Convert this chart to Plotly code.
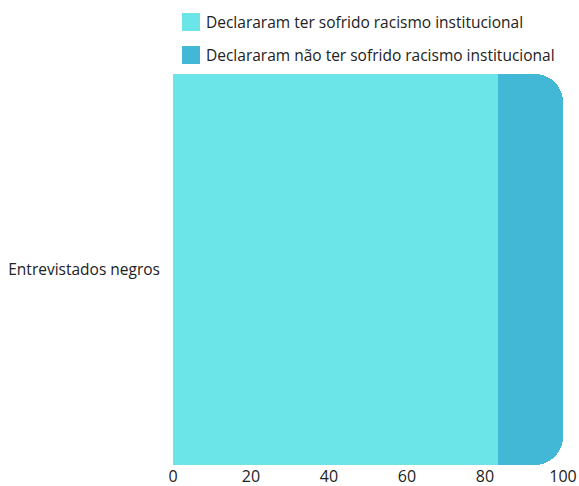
import plotly.graph_objects as go

categories = ["Entrevistados negros"]
series_names = [
    "Declararam ter sofrido racismo institucional",
    "Declararam não ter sofrido racismo institucional",
]
series_values = [[83.3], [16.7]]
series_colors = ["#6CE5E9", "#42B8D6"]
x_ticks = [0, 20, 40, 60, 80, 100]

W, H = 579, 486
L, R, T, B = 173, 16, 74, 21
FONT = "Open Sans"
FS = 15.5

fig = go.Figure()
for name, vals, col in zip(series_names, series_values, series_colors):
    fig.add_trace(go.Bar(
        y=categories, x=vals, name=name, orientation="h",
        marker=dict(color=col, line=dict(width=0)),
        showlegend=False, hoverinfo="x+name",
    ))

# legend drawn as swatches with labels above the plot
pw, ph = W - L - R, H - T - B
def px_to_paper(px, py):
    return (px - L) / pw, (H - B - py) / ph

shapes, annotations = [], []
for i, (name, col) in enumerate(zip(series_names, series_colors)):
    cy = 22 + i * 33
    x0, y0 = px_to_paper(182, cy + 9)
    x1, y1 = px_to_paper(200, cy - 9)
    shapes.append(dict(type="rect", xref="paper", yref="paper",
                       x0=x0, y0=y0, x1=x1, y1=y1,
                       fillcolor=col, line=dict(width=0), layer="above"))
    tx, ty = px_to_paper(204, cy)
    annotations.append(dict(text=name, xref="paper", yref="paper",
                            x=tx, y=ty, xanchor="left", yanchor="middle",
                            showarrow=False,
                            font=dict(family=FONT, size=FS, color="#222222")))

fig.update_layout(
    width=W, height=H,
    margin=dict(l=L, r=R, t=T, b=B, pad=0, autoexpand=False),
    barmode="stack", bargap=0, barcornerradius=28,
    paper_bgcolor="white", plot_bgcolor="white",
    font=dict(family=FONT, size=FS, color="#222222"),
    shapes=shapes, annotations=annotations,
    xaxis=dict(range=[0, 100], tickvals=x_ticks, showgrid=True,
               gridcolor="#efe9ea", gridwidth=1, zeroline=False,
               showline=False, ticks="", fixedrange=True, automargin=False,
               tickfont=dict(size=16, color="#222222")),
    yaxis=dict(showgrid=False, zeroline=False, showline=False,
               ticks="", ticklabelstandoff=12, fixedrange=True,
               automargin=False,
               tickfont=dict(size=FS, color="#222222")),
)

fig.write_html("out.html")
